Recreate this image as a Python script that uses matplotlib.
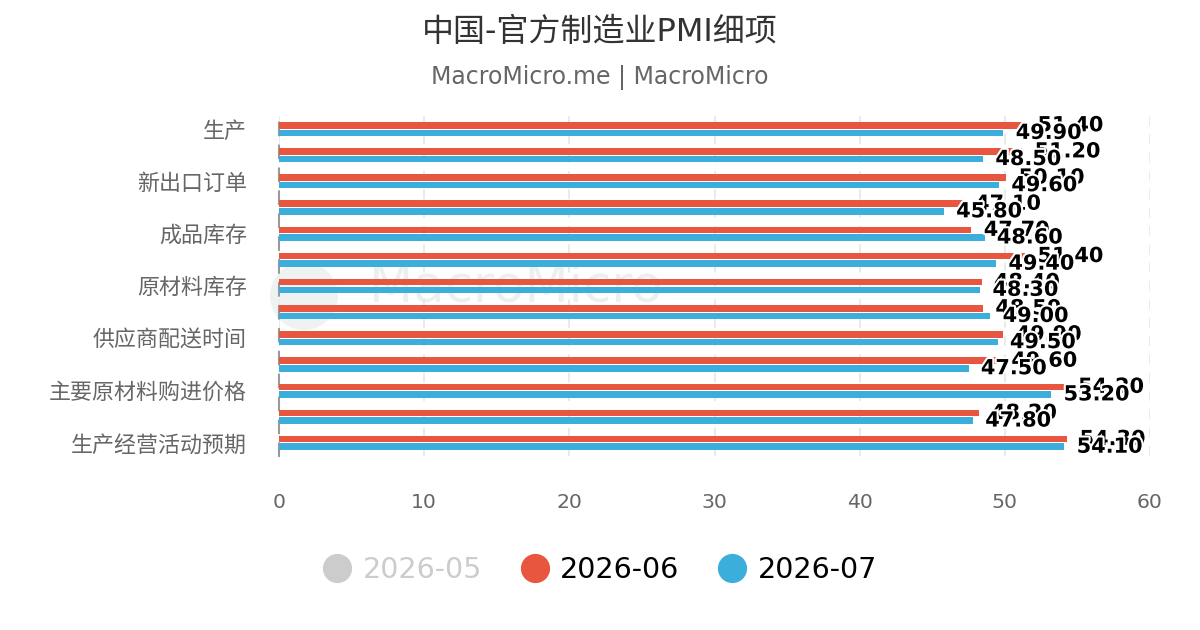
import numpy as np
import matplotlib
matplotlib.use('Agg')
import matplotlib.pyplot as plt
import matplotlib.patheffects as pe
from matplotlib.lines import Line2D
from matplotlib.patches import Circle

plt.rcParams['font.family'] = ['DejaVu Sans', 'Noto Sans CJK SC']

# Data
categories = ['生产', '新订单', '新出口订单', '在手订单', '成品库存', '采购量', '原材料库存',
              '从业人员', '供应商配送时间', '进口', '主要原材料购进价格', '出厂价格', '生产经营活动预期']
jun = [51.4, 51.2, 50.1, 47.1, 47.7, 51.4, 48.4, 48.5, 49.9, 49.6, 54.2, 48.2, 54.3]
jul = [49.9, 48.5, 49.6, 45.8, 48.6, 49.4, 48.3, 49.0, 49.5, 47.5, 53.2, 47.8, 54.1]
series_names = ['2026-05', '2026-06', '2026-07']

red = '#e8563f'
blue = '#3baedb'

fig = plt.figure(figsize=(12, 6.3), dpi=100)
ax = fig.add_axes([279 / 1200, 1 - 456 / 630, 871 / 1200, 340 / 630])

y = np.arange(len(categories))
h = 0.25
off = 0.145
ax.barh(y - off, jun, height=h, color=red, zorder=3)
ax.barh(y + off, jul, height=h, color=blue, zorder=3)

stroke = [pe.withStroke(linewidth=3, foreground='white')]
for i in range(len(categories)):
    ax.text(jun[i] + 0.85, y[i] - off, f'{jun[i]:.2f}', va='center', ha='left',
            fontsize=15, fontweight='bold', color='black', path_effects=stroke, zorder=5)
    ax.text(jul[i] + 0.85, y[i] + off, f'{jul[i]:.2f}', va='center', ha='left',
            fontsize=15, fontweight='bold', color='black', path_effects=stroke, zorder=6)

ax.set_xlim(0, 60)
ax.set_ylim(len(categories) - 0.5, -0.5)
ax.set_xticks(range(0, 61, 10))
ax.set_yticks(y[::2])
ax.set_yticklabels(categories[::2])
ax.tick_params(axis='x', length=0, labelsize=14.7, labelcolor='#666666', pad=27)
ax.tick_params(axis='y', length=0, labelsize=15.8, labelcolor='#666666', pad=23)

ax.grid(axis='x', color='#e2e8e8', linestyle=(0, (6, 5)), linewidth=1.2, zorder=0)
for s in ['top', 'right', 'bottom']:
    ax.spines[s].set_visible(False)
ax.spines['left'].set_color('#999999')
ax.spines['left'].set_linestyle((0, (6, 5)))
ax.spines['left'].set_linewidth(1.5)

# watermark
logo = Circle((3.04, 3.34), 0.34, transform=fig.dpi_scale_trans, facecolor='#e3ebe9',
              edgecolor='none', alpha=0.6, zorder=1, clip_on=False)
ax.add_patch(logo)
ax.text(5.16, 3.42, 'MacroMicro', transform=fig.dpi_scale_trans, fontsize=37,
        color='#e3ebe9', alpha=0.7, ha='center', va='center', zorder=1)

fig.text(0.5, 1 - 33 / 630, '中国-官方制造业PMI细项', ha='center', va='center',
         fontsize=23, color='#333333')
fig.text(0.5, 1 - 78 / 630, 'MacroMicro.me | MacroMicro', ha='center', va='center',
         fontsize=17, color='#666666')

handles = [Line2D([], [], marker='o', linestyle='none', markersize=20, color=c)
           for c in ['#cccccc', red, blue]]
leg = fig.legend(handles, series_names, loc='center', bbox_to_anchor=(0.5, 1 - 570 / 630),
                 ncol=3, frameon=False, fontsize=20.5, handlelength=1.0,
                 handletextpad=0.4, columnspacing=1.35)
leg.get_texts()[0].set_color('#cccccc')

fig.savefig('out.png', dpi=100)
